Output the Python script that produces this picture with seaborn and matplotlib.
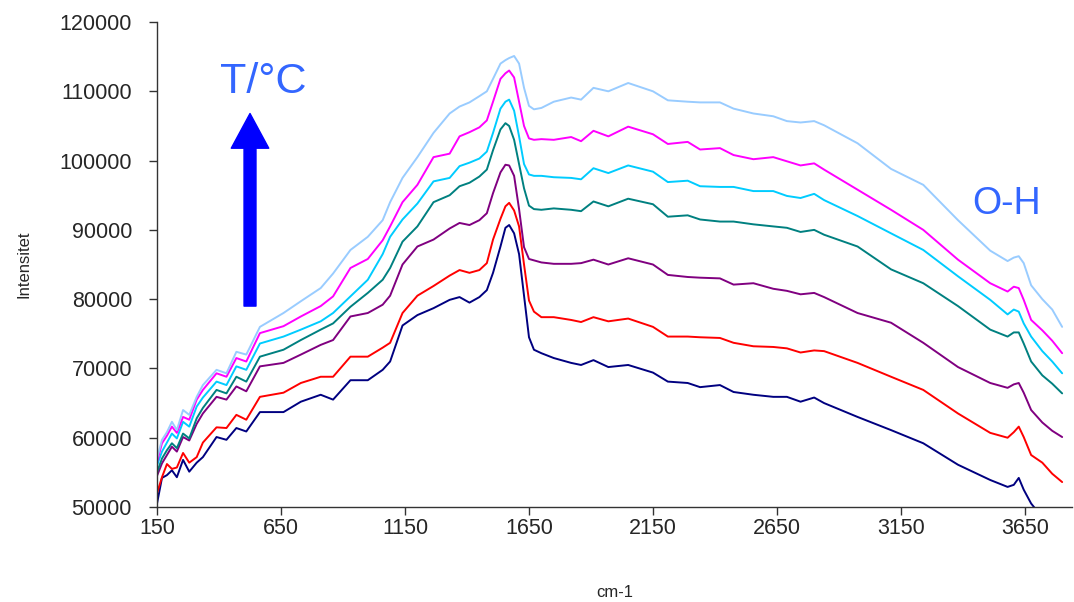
import pandas as pd
import matplotlib.pyplot as plt
from matplotlib.patches import FancyArrowPatch
import seaborn as sns

# wavenumber grid (cm-1)
wavenumber = [150, 170, 190, 210, 230, 255, 280, 310, 335, 390, 430, 470, 510, 565, 660, 730,
              810, 860, 930, 1000, 1060, 1090, 1140, 1200, 1265, 1330, 1370, 1410, 1450, 1480,
              1505, 1535, 1555, 1570, 1590, 1610, 1630, 1650, 1670, 1700, 1750, 1820, 1860, 1910,
              1970, 2050, 2150, 2210, 2290, 2340, 2420, 2475, 2555, 2635, 2690, 2745, 2800, 2840,
              2975, 3110, 3240, 3380, 3510, 3580, 3605, 3625, 3645, 3675, 3720, 3760, 3800]

navy = [50500, 54200, 54600, 55300, 54300, 56800, 55100, 56400, 57200, 60100, 59700, 61400, 60900,
        63700, 63700, 65200, 66200, 65500, 68300, 68300, 69800, 71000, 76200, 77700, 78700, 79900,
        80300, 79500, 80300, 81300, 83800, 87600, 90300, 90700, 89500, 86500, 80500, 74500, 72700,
        72200, 71500, 70800, 70500, 71200, 70200, 70500, 69400, 68100, 67900, 67300, 67600, 66600,
        66200, 65900, 65900, 65200, 65800, 65000, 63000, 61100, 59200, 56100, 53900, 52900, 53200,
        54200, 52500, 50500, 48500, 47000, 46000]

red = [52000, 54300, 56200, 55500, 55700, 57800, 56400, 57200, 59300, 61500, 61400, 63300, 62600,
       65900, 66500, 67900, 68800, 68800, 71700, 71700, 73000, 73700, 78000, 80500, 81900, 83400,
       84200, 83800, 84200, 85200, 88600, 91600, 93400, 93900, 92800, 90500, 85000, 79800, 78200,
       77400, 77400, 77000, 76700, 77400, 76800, 77200, 76000, 74600, 74600, 74500, 74400, 73700,
       73200, 73100, 72900, 72300, 72600, 72500, 70800, 68800, 66900, 63500, 60700, 60000, 60800,
       61600, 60100, 57500, 56400, 54800, 53600]

purple = [54500, 56300, 57500, 58700, 58000, 60100, 59600, 62000, 63500, 65900, 65500, 67400, 66700,
          70300, 70800, 72000, 73400, 74100, 77500, 78000, 79200, 80500, 85000, 87600, 88600, 90200,
          91000, 90700, 91400, 92400, 95300, 98300, 99400, 99300, 97800, 93000, 87500, 85800, 85600,
          85300, 85100, 85100, 85200, 85700, 85000, 85900, 85000, 83500, 83200, 83100, 83000, 82100,
          82300, 81500, 81200, 80700, 80900, 80300, 78000, 76600, 73700, 70200, 67900, 67200, 67700,
          67900, 66500, 64000, 62200, 61000, 60100]

teal = [55000, 57000, 58200, 59200, 58500, 60600, 59900, 62800, 64300, 66900, 66400, 68800, 68100,
        71700, 72700, 74100, 75600, 76500, 78900, 80900, 82800, 84500, 88300, 90500, 94000, 95000,
        96300, 96800, 97700, 98700, 101500, 104500, 105400, 105000, 103000, 99500, 96000, 93500,
        93000, 92900, 93100, 92900, 92700, 94100, 93400, 94500, 93700, 91900, 92100, 91500, 91200,
        91200, 90800, 90500, 90300, 89700, 90000, 89300, 87600, 84300, 82300, 79000, 75600, 74600,
        75200, 75200, 73600, 71000, 69000, 67800, 66400]

cyan = [56000, 58000, 59300, 60600, 59900, 62300, 61600, 64500, 65800, 68100, 67600, 70300, 69800,
        73600, 74600, 75600, 76800, 78000, 80400, 82800, 86500, 89000, 91500, 93800, 97000, 97500,
        99200, 99700, 100300, 101300, 104000, 107500, 108500, 108800, 107200, 103500, 99500, 98000,
        97800, 97800, 97600, 97500, 97300, 98900, 98200, 99300, 98400, 96900, 97100, 96300, 96200,
        96200, 95600, 95600, 94900, 94600, 95200, 94300, 92000, 89500, 87100, 83300, 79900, 77800,
        78500, 78200, 76500, 74600, 72500, 71000, 69300]

magenta = [56500, 59200, 60300, 61600, 60700, 63000, 62600, 65500, 66900, 69300, 68800, 71500, 71000,
           75100, 76100, 77500, 79000, 80400, 84500, 85800, 88500, 90500, 94000, 96500, 100500, 101000,
           103500, 104100, 104800, 105800, 108500, 111800, 112600, 113000, 112000, 108500, 105000,
           103200, 103000, 103100, 103000, 103400, 102800, 104300, 103500, 104900, 103800, 102400,
           102700, 101600, 101800, 100800, 100200, 100500, 99900, 99300, 99600, 98700, 95800, 92900,
           90000, 85700, 82300, 81100, 81800, 81600, 79900, 77000, 75500, 74000, 72200]

lightblue = [57000, 59700, 60800, 62300, 61100, 64000, 63300, 65900, 67600, 69800, 69300, 72400, 72000,
             76000, 78000, 79700, 81600, 83700, 87100, 89000, 91400, 94000, 97500, 100500, 104000,
             106800, 107800, 108400, 109300, 110000, 111800, 114000, 114500, 114800, 115100, 114000,
             110500, 107900, 107400, 107600, 108500, 109100, 108800, 110500, 110000, 111200, 110000,
             108700, 108500, 108400, 108400, 107500, 106800, 106400, 105700, 105500, 105700, 105100,
             102500, 98800, 96500, 91400, 87000, 85500, 86000, 86200, 85200, 82000, 80000, 78500, 76000]

series = {'navy': navy, 'red': red, 'purple': purple, 'teal': teal,
          'cyan': cyan, 'magenta': magenta, 'lightblue': lightblue}
colors = {'navy': '#000080', 'red': '#FF0000', 'purple': '#800080', 'teal': '#008080',
          'cyan': '#00CCFF', 'magenta': '#FF00FF', 'lightblue': '#99CCFF'}

df = pd.DataFrame({'cm-1': wavenumber, **series})
df = df.melt(id_vars='cm-1', var_name='serie', value_name='Intensitet')

sns.set_style("ticks")
plt.rcParams['font.family'] = ['Liberation Sans', 'DejaVu Sans']

fig = plt.figure(figsize=(10.74, 6.02), dpi=100)
ax = fig.add_axes([0.1462, 0.1578, 0.852, 0.8056])

sns.lineplot(data=df, x='cm-1', y='Intensitet', hue='serie', palette=colors,
             legend=False, linewidth=1.4, ax=ax)

ax.set_xlim(150, 3840)
ax.set_ylim(50000, 120000)
ax.set_xticks(range(150, 3651, 500))
ax.set_yticks(range(50000, 120001, 10000))
ax.tick_params(axis='both', labelsize=15.5, length=6, width=1, color='#333333')
ax.tick_params(axis='x', pad=2)
ax.tick_params(axis='y', pad=12)
ax.set_xlabel('cm-1', fontsize=12, labelpad=33)
ax.set_ylabel('Intensitet', fontsize=12, labelpad=20)
sns.despine(ax=ax)
for s in ['left', 'bottom']:
    ax.spines[s].set_color('#333333')
    ax.spines[s].set_linewidth(1)

ax.text(577, 111300, 'T/°C', color='#3366FF', fontsize=31, ha='center', va='center')
ax.text(3575, 93700, 'O-H', color='#3366FF', fontsize=27, ha='center', va='center')

arrow = FancyArrowPatch((525, 79000), (525, 106800), mutation_scale=1, color='#0000FF',
                        arrowstyle='simple,head_length=25,head_width=27,tail_width=8.6',
                        shrinkA=0, shrinkB=0)
ax.add_patch(arrow)

fig.savefig('out.png', dpi=100)
